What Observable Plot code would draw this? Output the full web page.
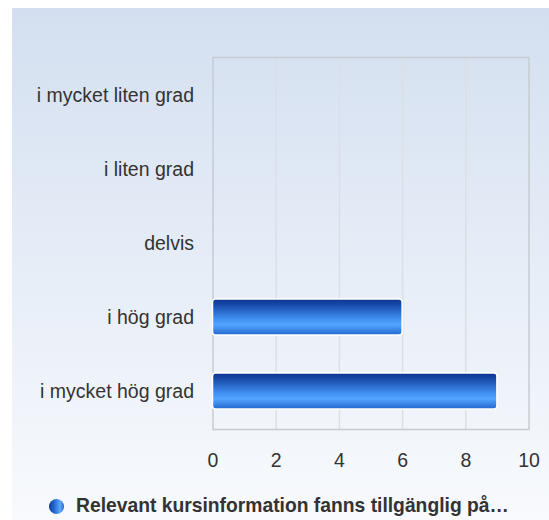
<!DOCTYPE html>
<html>
<head>
<meta charset="utf-8">
<script src="https://cdn.jsdelivr.net/npm/d3@7"></script>
<script src="https://cdn.jsdelivr.net/npm/@observablehq/plot@0.6"></script>
<style>
  html, body { margin: 0; padding: 0; background: #fff; }
  #page { position: relative; width: 549px; height: 520px; overflow: hidden; background: #fff; }
  #panel { position: absolute; left: 12px; top: 8px; width: 537px; height: 512px;
           background: linear-gradient(to bottom, #d3dff0 0%, #e6edf7 50%, #f8fafd 100%); }
  #chart { position: absolute; left: 0; top: 0; }
  #legend { position: absolute; left: 49px; top: 495px; display: flex; align-items: center;
            font-family: "Liberation Sans", Arial, sans-serif; font-weight: bold; font-size: 19.3px; color: #333; white-space: nowrap; }
  #legend .dot { display: block; flex: 0 0 15px; width: 15px; height: 15px; border-radius: 50%; margin-right: 12px;
                 background: linear-gradient(to right, #0b3a9c 0%, #2c6fd6 40%, #5aa8ff 75%, #2a64c8 100%); }
</style>
</head>
<body>
<div id="page">
  <div id="panel"></div>
  <div id="chart"></div>
  <div id="legend"><span class="dot"></span><span id="legendText"></span></div>
</div>
<script>
const categories = ["i mycket liten grad", "i liten grad", "delvis", "i hög grad", "i mycket hög grad"];
const values = [0, 0, 0, 6, 9];
const xTicks = [0, 2, 4, 6, 8, 10];
const seriesName = "Relevant kursinformation fanns tillgänglig på…";

const data = categories.map((c, i) => ({category: c, value: values[i]}));

const chart = Plot.plot({
  width: 549,
  height: 480,
  marginLeft: 212.5,
  marginRight: 20.5,
  marginTop: 57,
  marginBottom: 51,
  style: {background: "transparent", fontSize: "19.5px", fontFamily: "'Liberation Sans', Arial, sans-serif", color: "#333"},
  x: {domain: [0, 10], ticks: xTicks, tickSize: 0, tickPadding: 24, label: null},
  y: {domain: categories, paddingInner: 0.52, paddingOuter: 0.26, tickSize: 0, tickPadding: 19, label: null},
  marks: [
    Plot.ruleX(xTicks.slice(1, -1), {stroke: "#dcdfe4", strokeWidth: 1.5}),
    Plot.frame({stroke: "#c8ccd2", strokeWidth: 1.5}),
    Plot.barX(data, {x: "value", y: "category", fill: "url(#barGrad)", stroke: "white", strokeWidth: 1.5, rx: 3})
  ]
});

const svg = d3.select(chart);
svg.selectAll("text").style("font-size", "19.5px");
const defs = svg.insert("defs", ":first-child");
const g = defs.append("linearGradient").attr("id", "barGrad").attr("x1", 0).attr("y1", 0).attr("x2", 0).attr("y2", 1);
[[0, "#0b338f"], [0.2, "#1c4fb0"], [0.55, "#3f8ff0"], [0.72, "#52a5ff"], [1, "#2467cf"]]
  .forEach(([o, c]) => g.append("stop").attr("offset", o).attr("stop-color", c));

document.getElementById("chart").appendChild(chart);
document.getElementById("legendText").textContent = seriesName;
</script>
</body>
</html>
